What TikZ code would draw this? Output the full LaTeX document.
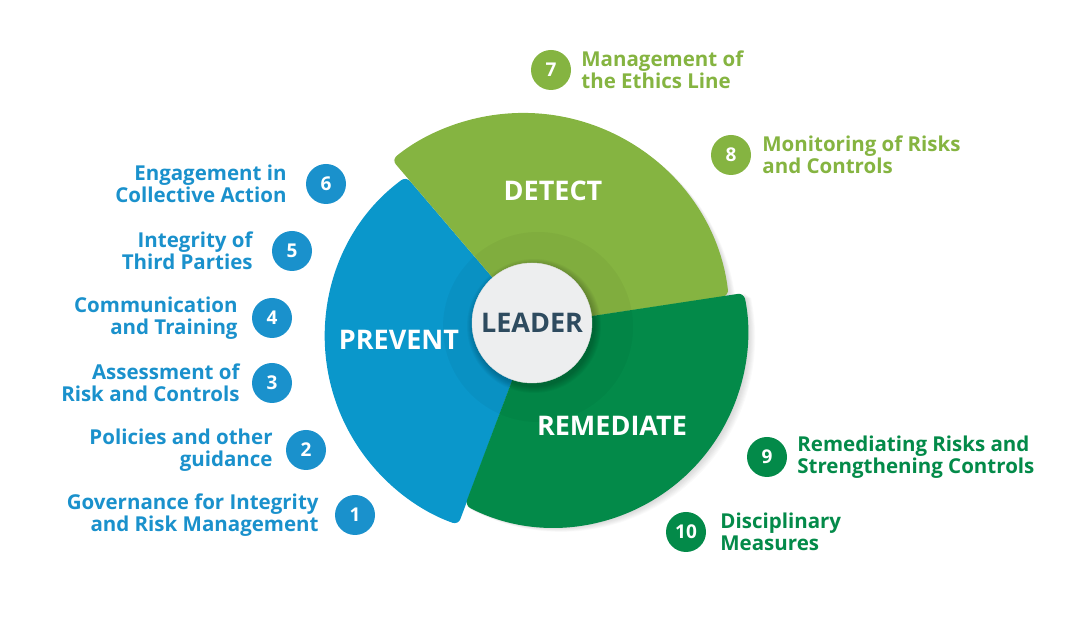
\documentclass[tikz,border=0pt]{standalone}
\usepackage{fontspec}
\setmainfont{Open Sans}
\usetikzlibrary{positioning}

\definecolor{prevblue}{HTML}{0A97CB}
\definecolor{itemblue}{HTML}{1A91CC}
\definecolor{detgreen}{HTML}{85B441}
\definecolor{remgreen}{HTML}{038A49}
\definecolor{leadtext}{HTML}{2E4B5F}
\definecolor{leadfill}{HTML}{EDEEEF}

\begin{document}
\begin{tikzpicture}
[
  x=1pt, y=1pt,
  bullet/.style={circle, minimum size=40pt, inner sep=0pt, text=white, font=\bfseries\fontsize{19}{19}\selectfont},
  litem/.style={inner sep=0pt, align=right, text=itemblue, font=\bfseries\fontsize{20.5}{22.5}\selectfont},
  ritem/.style={inner sep=0pt, align=left, font=\bfseries\fontsize{20.5}{22.5}\selectfont},
  phase/.style={text=white, font=\bfseries\fontsize{27}{27}\selectfont}
]
 \useasboundingbox (0,0) rectangle (1080,617);

 % soft shadows under the right-hand sectors
 \foreach \d in {1,...,8}
  \fill[black, opacity=0.018, shift={(\d*0.9,-\d*0.6)}] (533,292) -- (465,111.6) arc[start angle=-117.3, end angle=11.9, radius=194] -- cycle;
 \foreach \d in {1,...,8}
  \fill[black, opacity=0.018, shift={(\d*0.9,-\d*0.6)}] (533,292) -- (728.6,321.2) arc[start angle=6.7, end angle=129.3, radius=207] -- cycle;

 % sectors
 \fill[prevblue, rounded corners=6pt] (533,292) -- (406.2,440.4) arc[start angle=126.3, end angle=250.7, radius=199] -- cycle;
 \fill[detgreen, rounded corners=6pt] (533,292) -- (728.6,321.2) arc[start angle=6.7, end angle=129.3, radius=207] -- cycle;
 \fill[remgreen, rounded corners=6pt] (533,292) -- (465,111.6) arc[start angle=-117.3, end angle=11.9, radius=194] -- cycle;

 % inner ring
 \fill[black, opacity=0.035] (538,290) circle[radius=95];

 % centre
 \foreach \d in {1,...,7}
  \fill[black, opacity=0.03] (534,291) circle[radius=60+\d];
 \node[circle, minimum size=120pt, inner sep=0pt, fill=leadfill, draw=black!12, text=leadtext, font=\bfseries\fontsize{27}{27}\selectfont] (leader) at (532,294) {LEADER};

 \node[phase] (detect) at (553,426) {DETECT};
 \node[phase] (prevent) at (399,277) {PREVENT};
 \node[phase] (remediate) at (612,191) {REMEDIATE};

 % numbered items
 \node[bullet, fill=itemblue] (n1) at (355,102) {1};
 \node[bullet, fill=itemblue] (n2) at (306,167) {2};
 \node[bullet, fill=itemblue] (n3) at (272,234) {3};
 \node[bullet, fill=itemblue] (n4) at (272,299) {4};
 \node[bullet, fill=itemblue] (n5) at (292,366) {5};
 \node[bullet, fill=itemblue] (n6) at (326,433) {6};
 \node[bullet, fill=detgreen] (n7) at (551,547) {7};
 \node[bullet, fill=detgreen] (n8) at (731,462) {8};
 \node[bullet, fill=remgreen] (n9) at (767,160) {9};
 \node[bullet, fill=remgreen] (n10) at (686,85) {10};

 \node[litem, left=16pt of n1] (t1) {Governance for Integrity\\and Risk Management};
 \node[litem, left=13pt of n2] (t2) {Policies and other\\guidance};
 \node[litem, left=12pt of n3] (t3) {Assessment of\\Risk and Controls};
 \node[litem, left=14pt of n4] (t4) {Communication\\and Training};
 \node[litem, left=19pt of n5] (t5) {Integrity of\\Third Parties};
 \node[litem, left=19pt of n6] (t6) {Engagement in\\Collective Action};
 \node[ritem, text=detgreen, right=10pt of n7] (t7) {Management of\\the Ethics Line};
 \node[ritem, text=detgreen, right=11pt of n8] (t8) {Monitoring of Risks\\and Controls};
 \node[ritem, text=remgreen, right=10pt of n9] (t9) {Remediating Risks and\\Strengthening Controls};
 \node[ritem, text=remgreen, right=14pt of n10] (t10) {Disciplinary\\Measures};
\end{tikzpicture}
\end{document}
